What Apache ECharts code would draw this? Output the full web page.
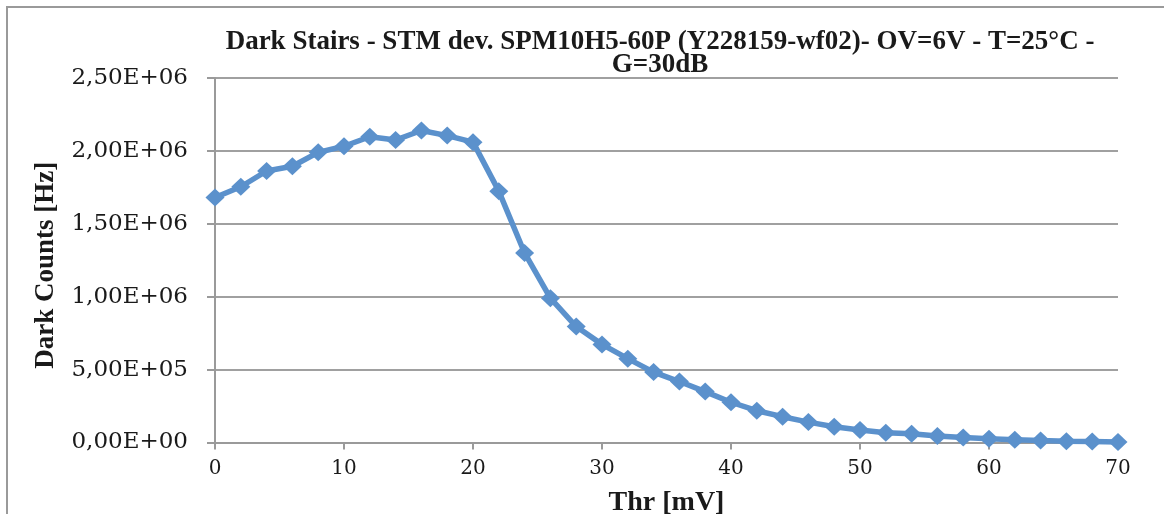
<!DOCTYPE html>
<html>
<head>
<meta charset="utf-8">
<script src="https://cdn.jsdelivr.net/npm/echarts@6/dist/echarts.min.js"></script>
<style>
html,body{margin:0;padding:0;background:#fff;overflow:hidden;}
#chart{width:1164px;height:514px;}
</style>
</head>
<body>
<div id="chart"></div>
<script>
var titleLines = ['Dark Stairs - STM dev. SPM10H5-60P (Y228159-wf02)- OV=6V - T=25°C -', 'G=30dB'];
var xAxisName = 'Thr [mV]';
var yAxisName = 'Dark Counts [Hz]';
var thr = [0, 2, 4, 6, 8, 10, 12, 14, 16, 18, 20, 22, 24, 26, 28, 30, 32, 34, 36, 38, 40, 42, 44, 46, 48, 50, 52, 54, 56, 58, 60, 62, 64, 66, 68, 70];
var darkCounts = [1680000, 1754000, 1862000, 1895000, 1990000, 2032000, 2097000, 2075000, 2140000, 2105000, 2060000, 1724000, 1300000, 990000, 795000, 673000, 575000, 483000, 418000, 349000, 276000, 218000, 177000, 140000, 108000, 86000, 67000, 60000, 45000, 35000, 25000, 19000, 13000, 9000, 7000, 4000];
var xTicks = { min: 0, max: 70, interval: 10 };
var yTicks = { min: 0, max: 2500000, interval: 500000 };

var seriesData = thr.map(function (t, i) { return [t, darkCounts[i]]; });

function sciComma(v) {
  var s = Number(v).toExponential(2);
  var parts = s.split('e');
  var mant = parts[0].replace('.', ',');
  var exp = parseInt(parts[1], 10);
  var sign = exp < 0 ? '-' : '+';
  var a = Math.abs(exp);
  return mant + 'E' + sign + (a < 10 ? '0' + a : '' + a);
}

var chart = echarts.init(document.getElementById('chart'), null, { width: 1164, height: 514 });
chart.setOption({
  backgroundColor: '#ffffff',
  animation: false,
  graphic: [{
    type: 'rect',
    shape: { x: 7, y: 7, width: 1300, height: 900 },
    style: { fill: 'none', stroke: '#9a9a9a', lineWidth: 2 },
    silent: true,
    z: -1
  }],
  title: {
    text: titleLines.join('\n'),
    left: 660,
    textAlign: 'center',
    top: 31,
    padding: 0,
    textStyle: {
      fontFamily: 'Liberation Serif',
      fontWeight: 'bold',
      fontSize: 27,
      lineHeight: 23,
      color: '#1a1a1a'
    }
  },
  grid: { left: 215, width: 903, top: 78, height: 364.5, containLabel: false, outerBoundsMode: 'none' },
  xAxis: {
    type: 'value',
    min: xTicks.min, max: xTicks.max, interval: xTicks.interval,
    name: xAxisName,
    nameLocation: 'middle',
    nameGap: 46,
    nameTextStyle: { fontFamily: 'Liberation Serif', fontWeight: 'bold', fontSize: 28, color: '#1a1a1a' },
    axisLine: { show: true, onZero: false, lineStyle: { color: '#9a9a9a', width: 2 } },
    axisTick: { show: true, length: 7, lineStyle: { color: '#9a9a9a', width: 2 } },
    axisLabel: { margin: 16, fontFamily: 'DejaVu Serif', fontSize: 20, color: '#1a1a1a' },
    splitLine: { show: false }
  },
  yAxis: {
    type: 'value',
    min: yTicks.min, max: yTicks.max, interval: yTicks.interval,
    name: yAxisName,
    nameLocation: 'middle',
    nameGap: 155,
    nameRotate: 90,
    nameTextStyle: { fontFamily: 'Liberation Serif', fontWeight: 'bold', fontSize: 27, color: '#1a1a1a', padding: [0, 10, 0, 0] },
    axisLine: { show: true, lineStyle: { color: '#9a9a9a', width: 2 } },
    axisTick: { show: true, length: 8, lineStyle: { color: '#9a9a9a', width: 2 } },
    axisLabel: { margin: 27, fontFamily: 'DejaVu Serif', fontSize: 23, color: '#1a1a1a', formatter: sciComma },
    splitLine: { show: true, lineStyle: { color: '#a0a0a0', width: 2 } }
  },
  series: [{
    type: 'line',
    data: seriesData,
    symbol: 'diamond',
    symbolSize: [19, 18],
    showAllSymbol: true,
    lineStyle: { color: '#5b91cc', width: 5.5 },
    itemStyle: { color: '#5b91cc' },
    clip: false
  }]
});
</script>
</body>
</html>
